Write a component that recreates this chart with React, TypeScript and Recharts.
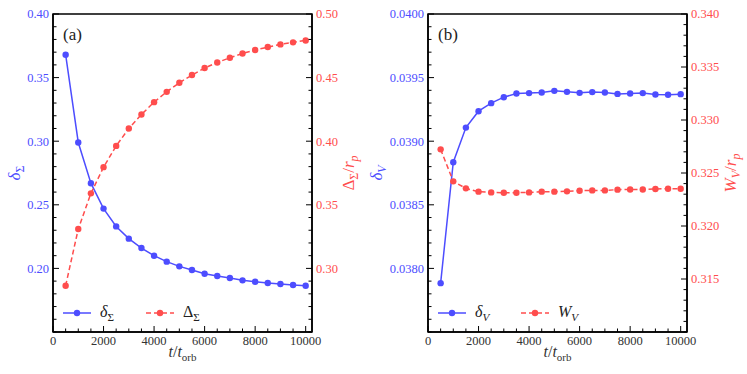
import React from 'react';
import { LineChart, Line, XAxis, YAxis, ReferenceArea, Legend } from 'recharts';

// sampled times (t / t_orb)
const times = [500, 1000, 1500, 2000, 2500, 3000, 3500, 4000, 4500, 5000, 5500, 6000, 6500, 7000, 7500, 8000, 8500, 9000, 9500, 10000];

// panel (a)
const deltaSigma = [0.368, 0.299, 0.267, 0.247, 0.233, 0.2234, 0.216, 0.21, 0.2053, 0.2016, 0.1987, 0.1958, 0.194, 0.1924, 0.1906, 0.1895, 0.1885, 0.1877, 0.1869, 0.1864];
const widthSigma = [0.2864, 0.331, 0.359, 0.3796, 0.3963, 0.41, 0.421, 0.4307, 0.4388, 0.4459, 0.452, 0.4575, 0.4619, 0.4656, 0.469, 0.4717, 0.474, 0.4761, 0.4777, 0.4792];

// panel (b)
const deltaV = [0.037884, 0.038835, 0.039107, 0.039236, 0.039299, 0.039346, 0.039375, 0.039378, 0.039383, 0.039396, 0.039388, 0.03938, 0.039386, 0.039383, 0.039372, 0.039375, 0.039378, 0.039367, 0.039365, 0.03937];
const widthV = [0.32723, 0.32421, 0.32355, 0.32324, 0.32317, 0.32314, 0.32314, 0.32317, 0.32324, 0.32324, 0.32327, 0.32333, 0.32336, 0.32336, 0.32343, 0.32345, 0.32345, 0.32349, 0.32352, 0.32352];

// tick labels
const xMajor = [0, 2000, 4000, 6000, 8000, 10000];
const aLeftMajor = [0.2, 0.25, 0.3, 0.35, 0.4];
const aRightMajor = [0.3, 0.35, 0.4, 0.45, 0.5];
const bLeftMajor = [0.038, 0.0385, 0.039, 0.0395, 0.04];
const bRightMajor = [0.315, 0.32, 0.325, 0.33, 0.335, 0.34];

const BLUE = '#4d4dff';
const RED = '#ff4d4d';
const FONT = "'Liberation Serif', 'Times New Roman', 'DejaVu Serif', serif";
const fontStyle = { fontFamily: FONT };

// minor tick positions between lo and hi
const steps = (lo: number, hi: number, step: number) => {
  const out: number[] = [];
  const n = Math.round((hi - lo) / step);
  for (let i = 0; i <= n; i++) out.push(+(lo + i * step).toFixed(6));
  return out;
};

const isMajor = (v: number, majors: number[]) => majors.some((m) => Math.abs(m - v) < 1e-9);

const makeTick = (side: 'left' | 'right' | 'bottom', majors: number[], color: string, digits: number) => (props: any) => {
  const { x, y, payload } = props;
  const v = payload.value;
  const major = isMajor(v, majors);
  const len = major ? 6 : 3.5;
  const label = major ? v.toFixed(digits) : null;
  if (side === 'left') {
    return (
      <g>
        <line x1={x} x2={x + len} y1={y} y2={y} stroke="#000" strokeWidth={1} />
        {label && (
          <text x={x - 4} y={y} dy="0.35em" textAnchor="end" fill={color} fontSize={12.5} style={fontStyle}>
            {label}
          </text>
        )}
      </g>
    );
  }
  if (side === 'right') {
    return (
      <g>
        <line x1={x} x2={x - len} y1={y} y2={y} stroke="#000" strokeWidth={1} />
        {label && (
          <text x={x + 4} y={y} dy="0.35em" textAnchor="start" fill={color} fontSize={12.5} style={fontStyle}>
            {label}
          </text>
        )}
      </g>
    );
  }
  return (
    <g>
      <line x1={x} x2={x} y1={y} y2={y - len} stroke="#000" strokeWidth={1} />
      {label && (
        <text x={x} y={y + 13} textAnchor="middle" fill="#333" fontSize={12.5} style={fontStyle}>
          {label}
        </text>
      )}
    </g>
  );
};

type Sym = { main: string; sub: string; italic: boolean; subItalic: boolean };

const symbols: Record<string, Sym> = {
  deltaSigma: { main: 'δ', sub: 'Σ', italic: true, subItalic: false },
  widthSigma: { main: 'Δ', sub: 'Σ', italic: false, subItalic: false },
  deltaV: { main: 'δ', sub: 'V', italic: true, subItalic: true },
  widthV: { main: 'W', sub: 'V', italic: true, subItalic: true },
};

const SymText = ({ s, size }: { s: Sym; size: number }) => (
  <>
    <tspan fontStyle={s.italic ? 'italic' : 'normal'}>{s.main}</tspan>
    <tspan fontSize={size * 0.7} dy={size * 0.25} fontStyle={s.subItalic ? 'italic' : 'normal'}>
      {s.sub}
    </tspan>
  </>
);

const yLabel = (s: Sym, color: string, dx: number, withR: boolean) => (props: any) => {
  const vb = props.viewBox;
  const cx = vb.x + dx;
  const cy = vb.y + vb.height / 2;
  const size = 17;
  return (
    <text x={cx} y={cy} transform={`rotate(-90 ${cx} ${cy})`} textAnchor="middle" fill={color} fontSize={size} style={fontStyle}>
      <SymText s={s} size={size} />
      {withR && (
        <>
          <tspan dy={-size * 0.25}>/</tspan>
          <tspan fontStyle="italic">r</tspan>
          <tspan fontStyle="italic" fontSize={size * 0.7} dy={size * 0.25}>p</tspan>
        </>
      )}
    </text>
  );
};

const xLabel = (props: any) => {
  const vb = props.viewBox;
  const cx = vb.x + vb.width / 2;
  const cy = vb.y + 25;
  return (
    <text x={cx} y={cy} textAnchor="middle" fill="#333" fontSize={16} style={fontStyle}>
      <tspan fontStyle="italic">t</tspan>
      <tspan>/</tspan>
      <tspan fontStyle="italic">t</tspan>
      <tspan fontSize={11} dy={4}>orb</tspan>
    </text>
  );
};

const panelLabel = (text: string) => (props: any) => {
  const vb = props.viewBox;
  return (
    <text x={vb.x + 10} y={vb.y + 26} fill="#222" fontSize={17} style={fontStyle}>
      {text}
    </text>
  );
};

const LegendContent = (props: any) => {
  const { payload } = props;
  return (
    <div style={{ display: 'flex', alignItems: 'center', fontFamily: FONT }}>
      {(payload || []).map((entry: any) => {
        const s = symbols[entry.dataKey];
        const dash = entry.payload?.strokeDasharray;
        return (
          <div key={entry.dataKey} style={{ display: 'flex', alignItems: 'center', marginRight: 20 }}>
            <svg width={28} height={12}>
              <line x1={0} x2={28} y1={6} y2={6} stroke={entry.color} strokeWidth={1.5} strokeDasharray={dash} />
              <circle cx={14} cy={6} r={3.2} fill={entry.color} />
            </svg>
            <svg width={26} height={22} style={{ marginLeft: 9 }}>
              <text x={0} y={15} fontSize={16} fill="#222" style={fontStyle}>
                <SymText s={s} size={16} />
              </text>
            </svg>
          </div>
        );
      })}
    </div>
  );
};

type PanelProps = {
  width: number;
  left: number;
  marginLeft: number;
  tag: string;
  leftKey: string;
  rightKey: string;
  leftValues: number[];
  rightValues: number[];
  leftDomain: [number, number];
  rightDomain: [number, number];
  leftMajor: number[];
  rightMajor: number[];
  leftStep: number;
  rightStep: number;
  leftDigits: number;
  rightDigits: number;
  leftAxisWidth: number;
  rightAxisWidth: number;
  leftLabelDx: number;
  rightLabelDx: number;
  legendLeft: number;
};

const Panel = (p: PanelProps) => {
  const data = times.map((t, i) => ({ t, [p.leftKey]: p.leftValues[i], [p.rightKey]: p.rightValues[i] }));
  const xTicks = steps(0, 10000, 500);
  const leftTicks = steps(p.leftDomain[0], p.leftDomain[1], p.leftStep);
  const rightTicks = steps(p.rightDomain[0], p.rightDomain[1], p.rightStep);
  return (
    <div style={{ position: 'absolute', left: p.left, top: 0 }}>
      <LineChart width={p.width} height={374} data={data} margin={{ top: 14, right: 8, bottom: 7, left: p.marginLeft }}>
        <XAxis
          dataKey="t"
          type="number"
          domain={[0, 10250]}
          ticks={xTicks}
          interval={0}
          tickSize={0}
          tickMargin={0}
          tickLine={false}
          tick={makeTick('bottom', xMajor, '#333', 0)}
          axisLine={{ stroke: '#000', strokeWidth: 1.5 }}
          height={35}
          label={{ content: xLabel }}
        />
        <YAxis
          yAxisId="left"
          orientation="left"
          type="number"
          domain={p.leftDomain}
          ticks={leftTicks}
          interval={0}
          tickSize={0}
          tickMargin={0}
          tickLine={false}
          tick={makeTick('left', p.leftMajor, BLUE, p.leftDigits)}
          axisLine={{ stroke: '#000', strokeWidth: 1.5 }}
          width={p.leftAxisWidth}
          label={{ content: yLabel(symbols[p.leftKey], BLUE, p.leftLabelDx, false) }}
        />
        <YAxis
          yAxisId="right"
          orientation="right"
          type="number"
          domain={p.rightDomain}
          ticks={rightTicks}
          interval={0}
          tickSize={0}
          tickMargin={0}
          tickLine={false}
          tick={makeTick('right', p.rightMajor, RED, p.rightDigits)}
          axisLine={{ stroke: '#000', strokeWidth: 1.5 }}
          width={p.rightAxisWidth}
          label={{ content: yLabel(symbols[p.rightKey], RED, p.rightLabelDx, true) }}
        />
        <ReferenceArea
          yAxisId="left"
          x1={0}
          x2={10250}
          y1={p.leftDomain[0]}
          y2={p.leftDomain[1]}
          fill="none"
          stroke="#000"
          strokeWidth={1.5}
          label={{ content: panelLabel(p.tag) }}
        />
        <Line
          yAxisId="left"
          dataKey={p.leftKey}
          stroke={BLUE}
          strokeWidth={1.5}
          dot={{ r: 3.2, fill: BLUE, stroke: 'none' }}
          activeDot={false}
          isAnimationActive={false}
        />
        <Line
          yAxisId="right"
          dataKey={p.rightKey}
          stroke={RED}
          strokeWidth={1.5}
          strokeDasharray="5 3"
          dot={{ r: 3.2, fill: RED, stroke: 'none', strokeDasharray: '' }}
          activeDot={false}
          isAnimationActive={false}
        />
        <Legend
          layout="vertical"
          align="center"
          verticalAlign="middle"
          content={LegendContent}
          wrapperStyle={{ left: p.legendLeft, top: 302, width: 260, height: 22 }}
        />
      </LineChart>
    </div>
  );
};

export default function App() {
  return (
    <div style={{ position: 'absolute', left: 0, top: 0, width: 747, height: 374, background: '#fff' }}>
      <Panel
        width={370}
        left={0}
        marginLeft={8}
        tag="(a)"
        leftKey="deltaSigma"
        rightKey="widthSigma"
        leftValues={deltaSigma}
        rightValues={widthSigma}
        leftDomain={[0.15, 0.4]}
        rightDomain={[0.25, 0.5]}
        leftMajor={aLeftMajor}
        rightMajor={aRightMajor}
        leftStep={0.01}
        rightStep={0.01}
        leftDigits={2}
        rightDigits={2}
        leftAxisWidth={45}
        rightAxisWidth={50}
        leftLabelDx={12}
        rightLabelDx={42}
        legendLeft={63}
      />
      <Panel
        width={387}
        left={360}
        marginLeft={18}
        tag="(b)"
        leftKey="deltaV"
        rightKey="widthV"
        leftValues={deltaV}
        rightValues={widthV}
        leftDomain={[0.0375, 0.04]}
        rightDomain={[0.31, 0.34]}
        leftMajor={bLeftMajor}
        rightMajor={bRightMajor}
        leftStep={0.0001}
        rightStep={0.001}
        leftDigits={4}
        rightDigits={3}
        leftAxisWidth={50}
        rightAxisWidth={52}
        leftLabelDx={4}
        rightLabelDx={49}
        legendLeft={78}
      />
    </div>
  );
}
